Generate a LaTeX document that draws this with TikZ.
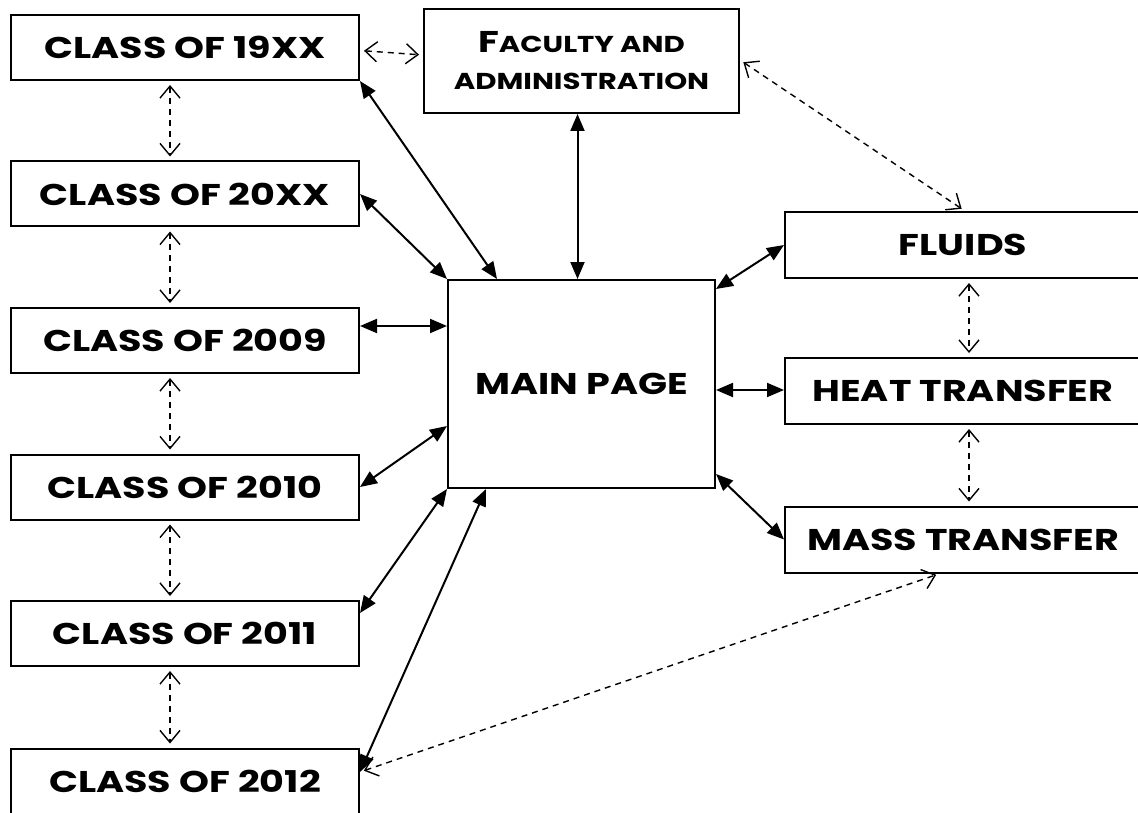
\documentclass[tikz,border=0pt]{standalone}
\usepackage{fontspec}
\newfontfamily\cop{Poppins}[FakeStretch=1.27]
\usetikzlibrary{arrows.meta}
\tikzset{
  box/.style={draw, line width=2pt, rectangle, inner sep=0pt, font=\cop\bfseries\fontsize{30}{34}\selectfont},
  lbox/.style={box, minimum width=348pt, minimum height=65pt},
  rbox/.style={box, minimum width=356pt, minimum height=66pt},
  solidarr/.style={line width=2pt, {Triangle[length=17pt,width=14pt]}-{Triangle[length=17pt,width=14pt]}},
  dasharr/.style={line width=1.4pt, dash pattern=on 6pt off 5pt, {Straight Barb[length=12pt,width=20pt]}-{Straight Barb[length=12pt,width=20pt]}, shorten <=4pt, shorten >=4pt},
}
\begin{document}
\begin{tikzpicture}[x=1pt,y=-1pt]
\useasboundingbox (0,0) rectangle (1138,813);
\node[lbox] (c1) at (185,47.5) {CLASS OF 19XX};
\node[lbox] (c2) at (185,194) {CLASS OF 20XX};
\node[lbox] (c3) at (185,340.5) {CLASS OF 2009};
\node[lbox] (c4) at (185,487) {CLASS OF 2010};
\node[lbox] (c5) at (185,633.5) {CLASS OF 2011};
\node[lbox] (c6) at (185,781) {CLASS OF 2012};
\node[box, minimum width=315pt, minimum height=104pt, align=center, font=\cop\bfseries\fontsize{23}{37}\selectfont] (fac) at (581.5,61)
  {{\fontsize{30}{37}\selectfont F}ACULTY AND\\ADMINISTRATION};
\node[box, minimum width=267pt, minimum height=208pt] (main) at (581.5,384) {MAIN PAGE};
\node[rbox] (flu) at (963,245) {FLUIDS};
\node[rbox] (heat) at (963,391) {HEAT TRANSFER};
\node[rbox] (mass) at (963,539.5) {MASS TRANSFER};
% dashed vertical left
\foreach \a/\b in {c1/c2,c2/c3,c3/c4,c4/c5,c5/c6}
  \draw[dasharr] ([xshift=-15pt]\a.south) -- ([xshift=-15pt]\b.north);
\draw[dasharr] ([xshift=6pt]flu.south) -- ([xshift=6pt]heat.north);
\draw[dasharr] ([xshift=6pt]heat.south) -- ([xshift=6pt]mass.north);
% other dashed
\draw[dasharr] ([yshift=-3pt]c1.east) -- ([yshift=6pt]fac.west);
\draw[dasharr] ([yshift=1pt]fac.east) -- ([xshift=2pt]flu.north);
\draw[dasharr] ([yshift=9pt]c6.east) -- ([xshift=-23pt]mass.south);
% solid
\draw[solidarr] (c1.south east) -- ([xshift=50pt]main.north west);
\draw[solidarr] (c2.east) -- (main.north west);
\draw[solidarr] ([yshift=14.5pt]c3.east) -- ([yshift=14.5pt]c3.east -| main.west);
\draw[solidarr] (c4.east) -- ([yshift=-42pt]main.west);
\draw[solidarr] ([yshift=20.5pt]c5.east) -- (main.south west);
\draw[solidarr] ([yshift=9pt]c6.east) -- ([xshift=39pt]main.south west);
\draw[solidarr] ([xshift=-4pt]fac.south) -- ([xshift=-4pt]main.north);
\draw[solidarr] ([yshift=-10pt]main.north east) -- (flu.west);
\draw[solidarr] ([yshift=-6pt]main.east) -- ([yshift=-6pt]main.east -| heat.west);
\draw[solidarr] ([yshift=15pt]main.south east) -- (mass.west);
\end{tikzpicture}
\end{document}
